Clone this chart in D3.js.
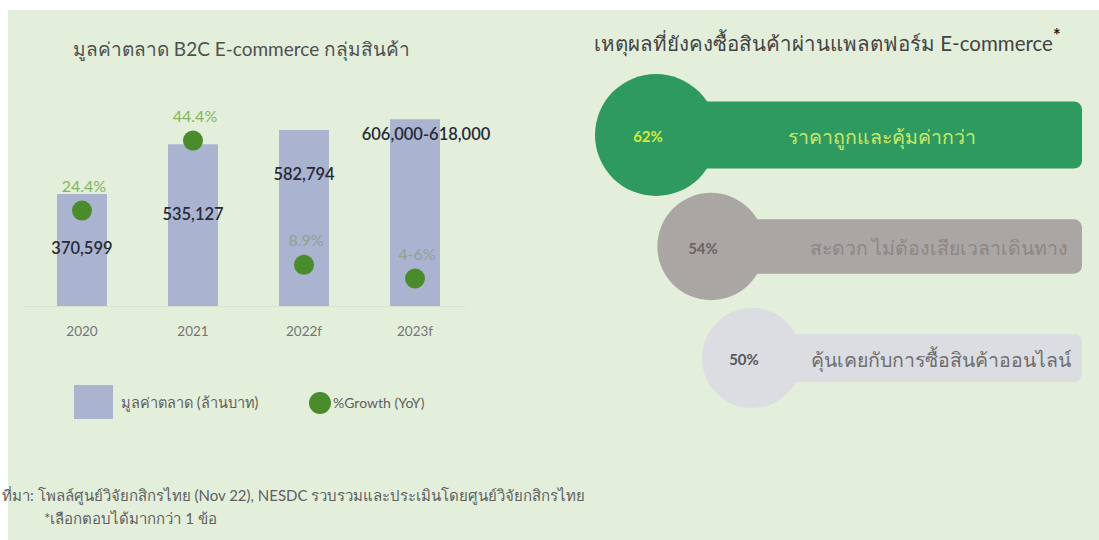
<!DOCTYPE html>
<html>
<head>
<meta charset="utf-8">
<script src="https://cdn.jsdelivr.net/npm/d3@7"></script>
<style>
  html, body { margin: 0; padding: 0; background: #e3efdb; overflow: hidden; }
  svg { display: block; }
  text { font-family: Lato, "Noto Sans", "DejaVu Sans", sans-serif; }
</style>
</head>
<body>
<svg id="chart" width="1099" height="540"></svg>
<script>
// Left chart: B2C e-commerce market value (million THB) and YoY growth
const years = ["2020", "2021", "2022f", "2023f"];
const marketLow = [370599, 535127, 582794, 606000];
const marketHigh = [370599, 535127, 582794, 618000];
const marketLabels = ["370,599", "535,127", "582,794", "606,000-618,000"];
const growth = [24.4, 44.4, 8.9, 5];
const growthLabels = ["24.4%", "44.4%", "8.9%", "4-6%"];

// Right chart: reasons for still buying through e-commerce platforms
const reasons = ["ราคาถูกและคุ้มค่ากว่า", "สะดวก ไม่ต้องเสียเวลาเดินทาง", "คุ้นเคยกับการซื้อสินค้าออนไลน์"];
const reasonShares = [62, 54, 50];
const reasonLabels = ["62%", "54%", "50%"];

const svg = d3.select("#chart");

// white page margin with the green panel on top
svg.append("rect").attr("x", 0).attr("y", 0).attr("width", 1099).attr("height", 540)
  .attr("fill", "#ffffff");
svg.append("rect").attr("x", 8).attr("y", 10).attr("width", 1100).attr("height", 540)
  .attr("fill", "#e3efdb");

// ---------- left: bar + dot chart ----------
const x0 = d3.scaleBand().domain(years).range([1.5, 495.5]).paddingInner(0.55).paddingOuter(0.5);
const y = d3.scaleLinear().domain([0, 700000]).range([306, 94.5]);
const yg = d3.scaleLinear().domain([0, 60]).range([296, 86]);
const cxBar = d => x0(d) + x0.bandwidth() / 2;

svg.append("text").attr("x", 73).attr("y", 56)
  .attr("font-size", 19).attr("fill", "#505050")
  .text("มูลค่าตลาด B2C E-commerce กลุ่มสินค้า");

// faint baseline
svg.append("line").attr("x1", 24).attr("x2", 466).attr("y1", 306.5).attr("y2", 306.5)
  .attr("stroke", "#d8e4d0").attr("stroke-width", 1);

svg.append("g").selectAll("rect").data(years).join("rect")
  .attr("x", d => x0(d))
  .attr("width", x0.bandwidth())
  .attr("y", (d, i) => y(marketHigh[i]))
  .attr("height", (d, i) => y(0) - y(marketHigh[i]))
  .attr("fill", "#aab3d0");

// x axis labels
const xAxis = d3.axisBottom(x0).tickSize(0).tickPadding(0);
const gx = svg.append("g").attr("transform", "translate(0,331)").call(xAxis);
gx.select(".domain").remove();
gx.selectAll("text").attr("font-size", 13.5).attr("fill", "#757575")
  .attr("font-family", "Lato, sans-serif").attr("dy", "0.35em");

// market value labels
const valueLabelY = [248, 214, 174, 134];
svg.append("g").selectAll("text").data(marketLabels).join("text")
  .attr("x", (d, i) => cxBar(years[i]) + (i === 3 ? 11 : 0))
  .attr("y", (d, i) => valueLabelY[i])
  .attr("dy", "0.35em")
  .attr("text-anchor", "middle")
  .attr("font-size", 16.5).attr("font-weight", 600).attr("fill", "#262b38")
  .text(d => d);

// growth dots
svg.append("g").selectAll("circle").data(growth).join("circle")
  .attr("cx", (d, i) => cxBar(years[i]))
  .attr("cy", d => yg(d))
  .attr("r", 10)
  .attr("fill", "#4a8c2c");

svg.append("g").selectAll("text").data(growthLabels).join("text")
  .attr("x", (d, i) => cxBar(years[i]) + 2)
  .attr("y", (d, i) => yg(growth[i]) - 24)
  .attr("dy", "0.35em")
  .attr("text-anchor", "middle")
  .attr("font-size", 16)
  .attr("fill", (d, i) => growth[i] > 20 ? "#84b45c" : "#8fa290")
  .text(d => d);

// legend
svg.append("rect").attr("x", 74).attr("y", 385).attr("width", 39).attr("height", 34)
  .attr("fill", "#aab3d0");
svg.append("text").attr("x", 121).attr("y", 403).attr("dy", "0.35em")
  .attr("font-size", 14.5).attr("fill", "#606060").text("มูลค่าตลาด (ล้านบาท)");
svg.append("circle").attr("cx", 320).attr("cy", 403).attr("r", 11).attr("fill", "#4a8c2c");
svg.append("text").attr("x", 333).attr("y", 403).attr("dy", "0.35em")
  .attr("font-size", 14).attr("fill", "#606060").text("%Growth (YoY)");

// source notes
svg.append("text").attr("x", 2).attr("y", 496).attr("dy", "0.35em")
  .attr("font-size", 15).attr("fill", "#606060")
  .text("ที่มา: โพลล์ศูนย์วิจัยกสิกรไทย (Nov 22), NESDC รวบรวมและประเมินโดยศูนย์วิจัยกสิกรไทย");
svg.append("text").attr("x", 44).attr("y", 519).attr("dy", "0.35em")
  .attr("font-size", 15).attr("fill", "#606060")
  .text("*เลือกตอบได้มากกว่า 1 ข้อ");

// ---------- right: reason bubbles ----------
const rightTitle = svg.append("text").attr("x", 594).attr("y", 51)
  .attr("font-size", 20.5).attr("fill", "#444444");
rightTitle.append("tspan").text("เหตุผลที่ยังคงซื้อสินค้าผ่านแพลตฟอร์ม E-commerce");
rightTitle.append("tspan").attr("dy", -9).attr("font-size", 18).attr("font-weight", 700)
  .attr("fill", "#222").text("*");

const rowY = d3.scalePoint().domain(reasons).range([135, 358]);
const cx = d3.scaleLinear().domain([0, 1, 2]).range([656, 711, 752]);
const r = d3.scaleLinear().domain([50, 62]).range([50, 61]);
const barH = d3.scaleLinear().domain([50, 62]).range([48, 67]);
const barRight = 1082;

const fills = ["#2e9a60", "#aaa6a4", "#dcdde2"];
const pctColors = ["#d6ec3a", "#6a6462", "#575757"];
const textColors = ["#c9e86a", "#8c8783", "#6e6e6e"];
const textX = [882, 939, 941];

const rows = svg.append("g").selectAll("g").data(reasons).join("g");
rows.append("rect")
  .attr("x", (d, i) => cx(i))
  .attr("y", (d, i) => rowY(d) - barH(reasonShares[i]) / 2)
  .attr("width", (d, i) => barRight - cx(i))
  .attr("height", (d, i) => barH(reasonShares[i]))
  .attr("rx", 8)
  .attr("fill", (d, i) => fills[i]);
rows.append("circle")
  .attr("cx", (d, i) => cx(i))
  .attr("cy", d => rowY(d))
  .attr("r", (d, i) => r(reasonShares[i]))
  .attr("fill", (d, i) => fills[i]);
rows.append("text")
  .attr("x", (d, i) => cx(i) - 8)
  .attr("y", d => rowY(d) + 2)
  .attr("dy", "0.35em")
  .attr("text-anchor", "middle")
  .attr("font-size", 15).attr("font-weight", 700)
  .attr("fill", (d, i) => pctColors[i])
  .text((d, i) => reasonLabels[i]);
rows.append("text")
  .attr("x", (d, i) => textX[i])
  .attr("y", d => rowY(d) + 2)
  .attr("dy", "0.35em")
  .attr("text-anchor", "middle")
  .attr("font-size", 19.5)
  .attr("fill", (d, i) => textColors[i])
  .text(d => d);
</script>
</body>
</html>
